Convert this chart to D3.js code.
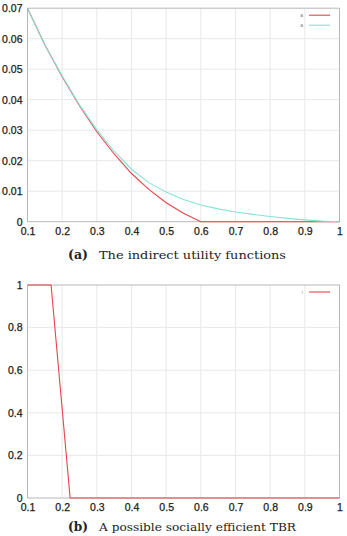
<!DOCTYPE html>
<html>
<head>
<meta charset="utf-8">
<script src="https://cdn.jsdelivr.net/npm/d3@7"></script>
<style>
  body { margin: 0; background: #fff; }
  svg { display: block; }
</style>
</head>
<body>
<script>
// x values shared by the top panel's curves
const xs = [0.1, 0.15, 0.2, 0.25, 0.3, 0.35, 0.4, 0.45, 0.5, 0.55, 0.6, 0.65, 0.7, 0.75, 0.8, 0.85, 0.9, 0.95, 1.0];
const redVals = [0.07, 0.058, 0.0475, 0.038, 0.0295, 0.0222, 0.0158, 0.0106, 0.0062, 0.0028, 0, 0, 0, 0, 0, 0, 0, 0, 0];
const cyanVals = [0.07, 0.058, 0.0478, 0.0383, 0.0301, 0.0231, 0.0172, 0.0128, 0.0097, 0.0073, 0.0055, 0.0042, 0.0032, 0.0024, 0.0017, 0.0011, 0.0006, 0.0002, 0];
// bottom panel step
const tbrX = [0.1, 0.168, 0.223, 1.0];
const tbrY = [1, 1, 0, 0];

const xTicks = [0.1, 0.2, 0.3, 0.4, 0.5, 0.6, 0.7, 0.8, 0.9, 1];
const yTicksTop = [0, 0.01, 0.02, 0.03, 0.04, 0.05, 0.06, 0.07];
const yTicksBot = [0, 0.2, 0.4, 0.6, 0.8, 1];

const W = 347, H = 536;
const red = "#e8434b", cyan = "#88e3d3";

const svg = d3.select("body").append("svg")
    .attr("width", W)
    .attr("height", H);

function panel(top, bottom, yDomain, yTicks, series, legend, caption) {
    const x = d3.scaleLinear().domain([0.1, 1]).range([27.5, 339.5]);
    const y = d3.scaleLinear().domain(yDomain).range([bottom, top]);
    const g = svg.append("g");

    // grid
    g.selectAll(".gx").data(xTicks.slice(1, -1)).join("line")
        .attr("x1", d => x(d)).attr("x2", d => x(d))
        .attr("y1", top).attr("y2", bottom)
        .attr("stroke", "#e8e8e8").attr("stroke-width", 1);
    g.selectAll(".gy").data(yTicks.slice(1, -1)).join("line")
        .attr("x1", x(0.1)).attr("x2", x(1))
        .attr("y1", d => y(d)).attr("y2", d => y(d))
        .attr("stroke", "#e8e8e8").attr("stroke-width", 1);

    // frame
    g.append("rect")
        .attr("x", x(0.1)).attr("y", top)
        .attr("width", x(1) - x(0.1)).attr("height", bottom - top)
        .attr("fill", "none").attr("stroke", "#b8b8b8").attr("stroke-width", 1);

    // axes
    const ax = g.append("g").attr("transform", `translate(0,${bottom})`)
        .call(d3.axisBottom(x).tickValues(xTicks).tickSize(0).tickPadding(6)
            .tickFormat(d => d === 1 ? "1" : d3.format(".1f")(d)));
    const ay = g.append("g").attr("transform", `translate(${x(0.1)},0)`)
        .call(d3.axisLeft(y).tickValues(yTicks).tickSize(0).tickPadding(5)
            .tickFormat(d => d === 0 ? "0" : (d === 1 ? "1" : String(+d.toFixed(2)))));
    [ax, ay].forEach(a => {
        a.select(".domain").remove();
        a.selectAll("text").attr("fill", "#1a1a1a")
            .attr("stroke", "#1a1a1a").attr("stroke-width", 0.25)
            .style("font", "10.5px 'Liberation Sans', Arial, sans-serif");
    });

    const line = d3.line().x(d => x(d[0])).y(d => y(d[1]));
    series.forEach(s => {
        g.append("path")
            .datum(s.xs.map((v, i) => [v, s.ys[i]]))
            .attr("d", line)
            .attr("fill", "none")
            .attr("stroke", s.color)
            .attr("stroke-width", 1.1);
    });

    // legend
    legend.forEach((l, i) => {
        const ly = top + 7 + i * 10;
        g.append("line")
            .attr("x1", 309).attr("x2", 330).attr("y1", ly).attr("y2", ly)
            .attr("stroke", l.color).attr("stroke-width", 1.1);
        g.append("text")
            .attr("x", 303).attr("y", ly + 2)
            .attr("text-anchor", "end")
            .attr("fill", "#777")
            .style("font", "5px 'Liberation Sans', Arial, sans-serif")
            .text(l.label);
    });

    // caption
    g.append("text")
        .attr("x", caption.x).attr("y", caption.y)
        .attr("fill", "#222")
        .style("font", "bold 12.5px 'DejaVu Serif', serif")
        .attr("textLength", 20).attr("lengthAdjust", "spacingAndGlyphs")
        .text(caption.tag);
    g.append("text")
        .attr("x", caption.x + 31).attr("y", caption.y)
        .attr("fill", "#222")
        .style("font", "11px 'DejaVu Serif', serif")
        .attr("textLength", caption.len).attr("lengthAdjust", "spacingAndGlyphs")
        .text(caption.text);
}

panel(8.2, 221.7, [0, 0.07], yTicksTop,
    [{xs: xs, ys: redVals, color: red}, {xs: xs, ys: cyanVals, color: cyan}],
    [{label: "a", color: red}, {label: "a", color: cyan}],
    {x: 68, y: 259, tag: "(a)", text: "The indirect utility functions", len: 187});

panel(285, 498, [0, 1], yTicksBot,
    [{xs: tbrX, ys: tbrY, color: red}],
    [{label: "ı", color: red}],
    {x: 68, y: 531, tag: "(b)", text: "A possible socially efficient TBR", len: 197});
</script>
</body>
</html>
